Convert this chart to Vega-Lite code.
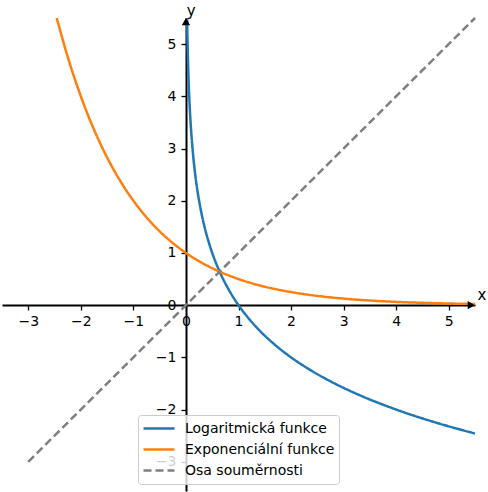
{
  "$schema": "https://vega.github.io/schema/vega-lite/v6.json",
  "width": 473,
  "height": 473,
  "autosize": {"type": "none"},
  "padding": {"left": 2, "top": 18, "right": 13, "bottom": 1},
  "background": "white",
  "config": {
    "view": {"stroke": null},
    "font": "DejaVu Sans",
    "axis": {
      "domainColor": "black", "domainWidth": 2, "tickColor": "black", "tickWidth": 1.3, "tickSize": 5,
      "labelFont": "DejaVu Sans", "labelFontSize": 14, "labelColor": "black", "grid": false, "title": null,
      "labelFlush": false, "labelOverlap": false, "zindex": 0
    }
  },
  "datasets": {
    "curves": [
      {"x": 0.0221, "y": 5.5, "s": "Logaritmická funkce"},
      {"x": 0.03125, "y": 5, "s": "Logaritmická funkce"},
      {"x": 0.0442, "y": 4.5, "s": "Logaritmická funkce"},
      {"x": 0.0625, "y": 4, "s": "Logaritmická funkce"},
      {"x": 0.0884, "y": 3.5, "s": "Logaritmická funkce"},
      {"x": 0.125, "y": 3, "s": "Logaritmická funkce"},
      {"x": 0.1768, "y": 2.5, "s": "Logaritmická funkce"},
      {"x": 0.25, "y": 2, "s": "Logaritmická funkce"},
      {"x": 0.2973, "y": 1.75, "s": "Logaritmická funkce"},
      {"x": 0.3536, "y": 1.5, "s": "Logaritmická funkce"},
      {"x": 0.4204, "y": 1.25, "s": "Logaritmická funkce"},
      {"x": 0.5, "y": 1, "s": "Logaritmická funkce"},
      {"x": 0.5946, "y": 0.75, "s": "Logaritmická funkce"},
      {"x": 0.7071, "y": 0.5, "s": "Logaritmická funkce"},
      {"x": 0.8409, "y": 0.25, "s": "Logaritmická funkce"},
      {"x": 1, "y": 0, "s": "Logaritmická funkce"},
      {"x": 1.1892, "y": -0.25, "s": "Logaritmická funkce"},
      {"x": 1.4142, "y": -0.5, "s": "Logaritmická funkce"},
      {"x": 1.6818, "y": -0.75, "s": "Logaritmická funkce"},
      {"x": 2, "y": -1, "s": "Logaritmická funkce"},
      {"x": 2.3784, "y": -1.25, "s": "Logaritmická funkce"},
      {"x": 2.8284, "y": -1.5, "s": "Logaritmická funkce"},
      {"x": 3.3636, "y": -1.75, "s": "Logaritmická funkce"},
      {"x": 4, "y": -2, "s": "Logaritmická funkce"},
      {"x": 4.7568, "y": -2.25, "s": "Logaritmická funkce"},
      {"x": 5.5, "y": -2.459, "s": "Logaritmická funkce"},
      {"x": -2.459, "y": 5.5, "s": "Exponenciální funkce"},
      {"x": -2.25, "y": 4.7568, "s": "Exponenciální funkce"},
      {"x": -2, "y": 4, "s": "Exponenciální funkce"},
      {"x": -1.75, "y": 3.3636, "s": "Exponenciální funkce"},
      {"x": -1.5, "y": 2.8284, "s": "Exponenciální funkce"},
      {"x": -1.25, "y": 2.3784, "s": "Exponenciální funkce"},
      {"x": -1, "y": 2, "s": "Exponenciální funkce"},
      {"x": -0.75, "y": 1.6818, "s": "Exponenciální funkce"},
      {"x": -0.5, "y": 1.4142, "s": "Exponenciální funkce"},
      {"x": -0.25, "y": 1.1892, "s": "Exponenciální funkce"},
      {"x": 0, "y": 1, "s": "Exponenciální funkce"},
      {"x": 0.25, "y": 0.8409, "s": "Exponenciální funkce"},
      {"x": 0.5, "y": 0.7071, "s": "Exponenciální funkce"},
      {"x": 0.75, "y": 0.5946, "s": "Exponenciální funkce"},
      {"x": 1, "y": 0.5, "s": "Exponenciální funkce"},
      {"x": 1.25, "y": 0.4204, "s": "Exponenciální funkce"},
      {"x": 1.5, "y": 0.3536, "s": "Exponenciální funkce"},
      {"x": 1.75, "y": 0.2973, "s": "Exponenciální funkce"},
      {"x": 2, "y": 0.25, "s": "Exponenciální funkce"},
      {"x": 2.5, "y": 0.1768, "s": "Exponenciální funkce"},
      {"x": 3, "y": 0.125, "s": "Exponenciální funkce"},
      {"x": 3.5, "y": 0.0884, "s": "Exponenciální funkce"},
      {"x": 4, "y": 0.0625, "s": "Exponenciální funkce"},
      {"x": 4.5, "y": 0.0442, "s": "Exponenciální funkce"},
      {"x": 5, "y": 0.03125, "s": "Exponenciální funkce"},
      {"x": 5.5, "y": 0.0221, "s": "Exponenciální funkce"},
      {"x": -3, "y": -3, "s": "Osa souměrnosti"},
      {"x": 5.5, "y": 5.5, "s": "Osa souměrnosti"}
    ],
    "arrows": [
      {"x": 5.43, "y": 0, "shape": "triangle-right"},
      {"x": 0, "y": 5.43, "shape": "triangle-up"}
    ],
    "labels": [
      {"x": 5.63, "y": 0.2, "t": "x"},
      {"x": 0.1, "y": 5.63, "t": "y"}
    ]
  },
  "layer": [
    {
      "data": {"name": "curves"},
      "mark": {"type": "line", "strokeWidth": 2.5, "interpolate": "monotone"},
      "encoding": {
        "x": {"field": "x", "type": "quantitative", "scale": {"domain": [-3.5, 5.5], "nice": false, "zero": false},
              "axis": {"orient": "bottom", "offset": -186, "labelPadding": 4, "values": [-3, -2, -1, 0, 1, 2, 3, 4, 5]}},
        "y": {"field": "y", "type": "quantitative", "scale": {"domain": [-3.56, 5.5], "nice": false, "zero": false},
              "axis": {"orient": "left", "offset": -184, "labelPadding": 5, "values": [-3, -2, -1, 0, 1, 2, 3, 4, 5]}},
        "color": {"field": "s", "type": "nominal",
          "scale": {"domain": ["Logaritmická funkce", "Exponenciální funkce", "Osa souměrnosti"], "range": ["#1f77b4", "#ff7f0e", "#7f7f7f"]},
          "legend": {"title": null, "orient": "none", "legendX": 136, "legendY": 397, "symbolType": "stroke", "symbolSize": 961,
            "symbolStrokeWidth": 2.5, "labelFontSize": 14, "labelFont": "DejaVu Sans", "labelColor": "black", "clipHeight": 19,
            "fillColor": "rgba(255,255,255,0.8)", "strokeColor": "#cccccc", "cornerRadius": 3, "padding": 4, "rowPadding": 2, "labelOffset": 9}},
        "strokeDash": {"field": "s", "type": "nominal",
          "scale": {"domain": ["Logaritmická funkce", "Exponenciální funkce", "Osa souměrnosti"], "range": [[1, 0], [1, 0], [8, 4]]},
          "legend": {"title": null, "orient": "none", "legendX": 136, "legendY": 397}}
      }
    },
    {
      "data": {"name": "arrows"},
      "mark": {"type": "point", "filled": true, "color": "black", "size": 70, "opacity": 1},
      "encoding": {
        "x": {"field": "x", "type": "quantitative"},
        "y": {"field": "y", "type": "quantitative"},
        "shape": {"field": "shape", "type": "nominal", "scale": null}
      }
    },
    {
      "data": {"name": "labels"},
      "mark": {"type": "text", "fontSize": 15, "font": "DejaVu Sans", "color": "black", "align": "center", "baseline": "middle"},
      "encoding": {
        "x": {"field": "x", "type": "quantitative"},
        "y": {"field": "y", "type": "quantitative"},
        "text": {"field": "t"}
      }
    }
  ]
}
